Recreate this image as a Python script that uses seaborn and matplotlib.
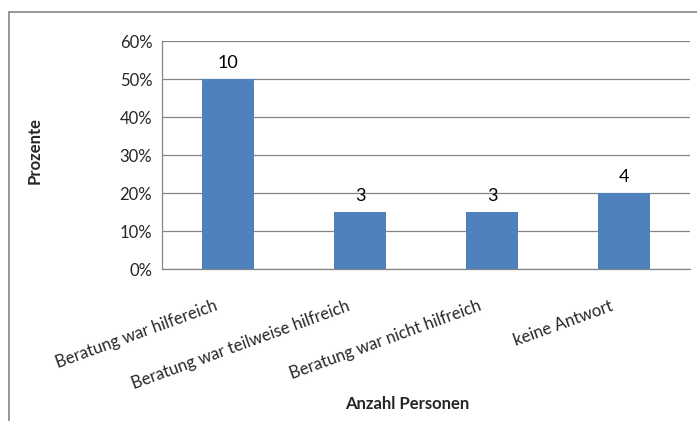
import matplotlib
matplotlib.use('Agg')
import matplotlib.pyplot as plt
import pandas as pd
import seaborn as sns
from matplotlib.patches import Rectangle
from matplotlib.ticker import PercentFormatter, FixedLocator

# data
categories = ['Beratung war hilfereich', 'Beratung war teilweise hilfreich',
              'Beratung war nicht hilfreich', 'keine Antwort']
percent = [50, 15, 15, 20]
counts = [10, 3, 3, 4]

df = pd.DataFrame({'Antwort': categories, 'Prozent': percent, 'Anzahl': counts})

sns.set_style('white')
plt.rcParams['font.family'] = ['Lato', 'DejaVu Sans']

grey = '#868686'
fig = plt.figure(figsize=(6.97, 4.21), dpi=100)
ax = fig.add_axes([0.2324, 0.361, 0.7575, 0.5416])

# frame of the chart area (right and bottom edges cut off in the original)
fig.patches.append(Rectangle((9 / 697, -0.1), 1.2, (421 - 12) / 421 + 0.1,
                             transform=fig.transFigure, fill=False,
                             edgecolor=grey, linewidth=1.2))

sns.barplot(df, x='Antwort', y='Prozent', color='#4F81BD', width=0.4,
            saturation=1, ax=ax, zorder=3, linewidth=0, edgecolor='none')

for i, (p, c) in enumerate(zip(df['Prozent'], df['Anzahl'])):
    ax.annotate(str(c), (i, p), xytext=(0, 6), textcoords='offset points',
                ha='center', va='bottom', fontsize=13, color='black')

ax.set_ylim(0, 60)
ax.set_xlim(-0.5, len(categories) - 0.5)
ax.set_yticks(range(0, 61, 10))
ax.yaxis.set_major_formatter(PercentFormatter(decimals=0))
ax.yaxis.grid(True, color=grey, linewidth=0.9, zorder=0)
ax.set_axisbelow(True)

# x: labels at centres, tick marks at category boundaries
ax.xaxis.set_minor_locator(FixedLocator([i - 0.5 for i in range(len(categories) + 1)]))
ax.tick_params(axis='x', which='major', length=0, pad=4)
ax.tick_params(axis='x', which='minor', length=4, color=grey, width=0.9, direction='out')
ax.tick_params(axis='y', length=4, color=grey, width=0.9, direction='out', pad=3,
               labelsize=12)
ax.set_xticks(range(len(categories)))
ax.set_xticklabels(categories, rotation=20, ha='right', va='center',
                   rotation_mode='anchor', fontsize=12)
for lbl in ax.get_xticklabels():
    lbl.set_transform(lbl.get_transform() + matplotlib.transforms.ScaledTranslation(
        -8 / 72, -22 / 72, fig.dpi_scale_trans))

for s in ['top', 'right']:
    ax.spines[s].set_visible(False)
for s in ['left', 'bottom']:
    ax.spines[s].set_color(grey)
    ax.spines[s].set_linewidth(0.9)

ax.set_ylabel('Prozente', fontsize=12, fontweight='bold', va='center')
ax.set_xlabel('Anzahl Personen', fontsize=12, fontweight='bold', va='center')
ax.yaxis.set_label_coords(35 / 697, (421 - 150) / 421, transform=fig.transFigure)
ax.xaxis.set_label_coords(407 / 697, (421 - 404) / 421, transform=fig.transFigure)

fig.savefig('out.png', dpi=100)
